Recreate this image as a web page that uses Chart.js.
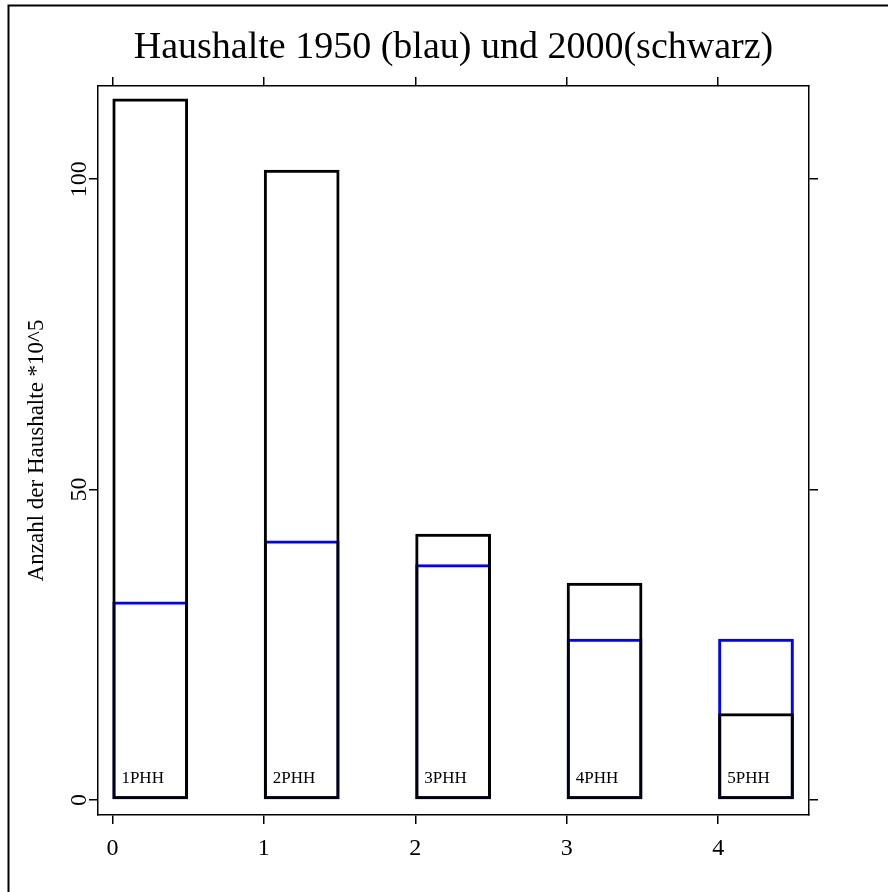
<!DOCTYPE html>
<html>
<head>
<meta charset="utf-8">
<script src="https://cdn.jsdelivr.net/npm/chart.js@4.4.0/dist/chart.umd.min.js"></script>
<style>
  html, body { margin: 0; padding: 0; background: #fff; }
  canvas { display: block; }
</style>
</head>
<body>
<canvas id="myChart" width="888" height="892"></canvas>
<script>
// household sizes (persons per household), values in units of 10^5
var groups = ['1PHH', '2PHH', '3PHH', '4PHH', '5PHH'];
var xTicks = [0, 1, 2, 3, 4];
var yTicks = [0, 50, 100];
var households2000 = [113, 101.5, 42.9, 35, 14];   // black
var households1950 = [32, 41.8, 38, 26, 26];        // blue

var serif = '"Liberation Serif", "Times New Roman", serif';
Chart.defaults.font.family = serif;
Chart.defaults.color = '#000';

function fixTicks(values) {
    return function (scale) {
        scale.ticks = values.map(function (v) { return { value: v }; });
    };
}

function barData(values) {
    return values.map(function (v, i) {
        return { x: xTicks[i] + 0.25, y: v };
    });
}

var axisLines = {
    offset: false,
    grid: { offset: false, drawOnChartArea: false, drawTicks: true, tickLength: 9, color: '#000', lineWidth: 1.5 },
    border: { display: true, color: '#000', width: 1.5 }
};

// white background + the outer frame of the figure
var framePlugin = {
    id: 'frame',
    beforeDraw: function (chart) {
        var ctx = chart.ctx;
        ctx.save();
        ctx.fillStyle = '#fff';
        ctx.fillRect(0, 0, chart.width, chart.height);
        ctx.strokeStyle = '#000';
        ctx.lineWidth = 2;
        ctx.beginPath();
        ctx.moveTo(8.5, chart.height);
        ctx.lineTo(8.5, 5.5);
        ctx.lineTo(chart.width, 5.5);
        ctx.stroke();
        ctx.restore();
    }
};

// "1PHH" ... texts inside the bars
var barLabels = {
    id: 'barLabels',
    afterDatasetsDraw: function (chart) {
        var ctx = chart.ctx;
        var xs = chart.scales.x, ys = chart.scales.y;
        ctx.save();
        ctx.font = '17px ' + serif;
        ctx.fillStyle = '#000';
        ctx.textAlign = 'center';
        ctx.textBaseline = 'alphabetic';
        groups.forEach(function (g, i) {
            ctx.fillText(g, xs.getPixelForValue(xTicks[i] + 0.2), ys.getPixelForValue(2.7));
        });
        ctx.restore();
    }
};

var barStyle = {
    backgroundColor: 'rgba(0,0,0,0)',
    borderWidth: 3,
    borderSkipped: false,
    grouped: false,
    categoryPercentage: 1,
    barPercentage: 0.5,
    inflateAmount: 0
};

var ctx = document.getElementById('myChart');

var chart = new Chart(ctx, {
    type: 'bar',
    data: {
        datasets: [
            Object.assign({ label: '2000', data: barData(households2000), borderColor: '#000000' }, barStyle),
            Object.assign({ label: '1950', data: barData(households1950), borderColor: '#0000ff' }, barStyle)
        ]
    },
    options: {
        responsive: false,
        animation: false,
        layout: { padding: 0 },
        plugins: {
            legend: { display: false },
            tooltip: { enabled: false },
            title: {
                display: true,
                fullSize: false,
                text: 'Haushalte 1950 (blau) und 2000(schwarz)',
                color: '#000',
                font: { family: serif, size: 38, weight: 'normal' },
                padding: { top: 25, bottom: 0 }
            }
        },
        scales: {
            x: Object.assign({
                type: 'linear',
                position: 'bottom',
                min: -0.095,
                max: 4.6,
                afterBuildTicks: fixTicks(xTicks),
                afterFit: function (s) { s.height = 77; },
                ticks: { color: '#000', font: { size: 24 }, padding: 10, minRotation: 0, maxRotation: 0, autoSkip: false }
            }, axisLines),
            x2: Object.assign({
                type: 'linear',
                position: 'top',
                min: -0.095,
                max: 4.6,
                afterBuildTicks: fixTicks(xTicks),
                afterFit: function (s) { s.height = 15.4; },
                ticks: { display: false }
            }, axisLines),
            y: Object.assign({
                type: 'linear',
                position: 'left',
                min: -2.4,
                max: 115,
                afterBuildTicks: fixTicks(yTicks),
                afterFit: function (s) { s.width = 98; },
                ticks: { color: '#000', font: { size: 24 }, minRotation: 90, maxRotation: 90, crossAlign: 'center', padding: -8.75 },
                title: {
                    display: true,
                    text: 'Anzahl der Haushalte *10^5',
                    color: '#000',
                    font: { family: serif, size: 23 },
                    padding: { top: 23, bottom: 0 }
                }
            }, axisLines),
            y2: Object.assign({
                type: 'linear',
                position: 'right',
                min: -2.4,
                max: 115,
                afterBuildTicks: fixTicks(yTicks),
                afterFit: function (s) { s.width = 79; },
                ticks: { display: false }
            }, axisLines)
        }
    },
    plugins: [framePlugin, barLabels]
});
</script>
</body>
</html>
